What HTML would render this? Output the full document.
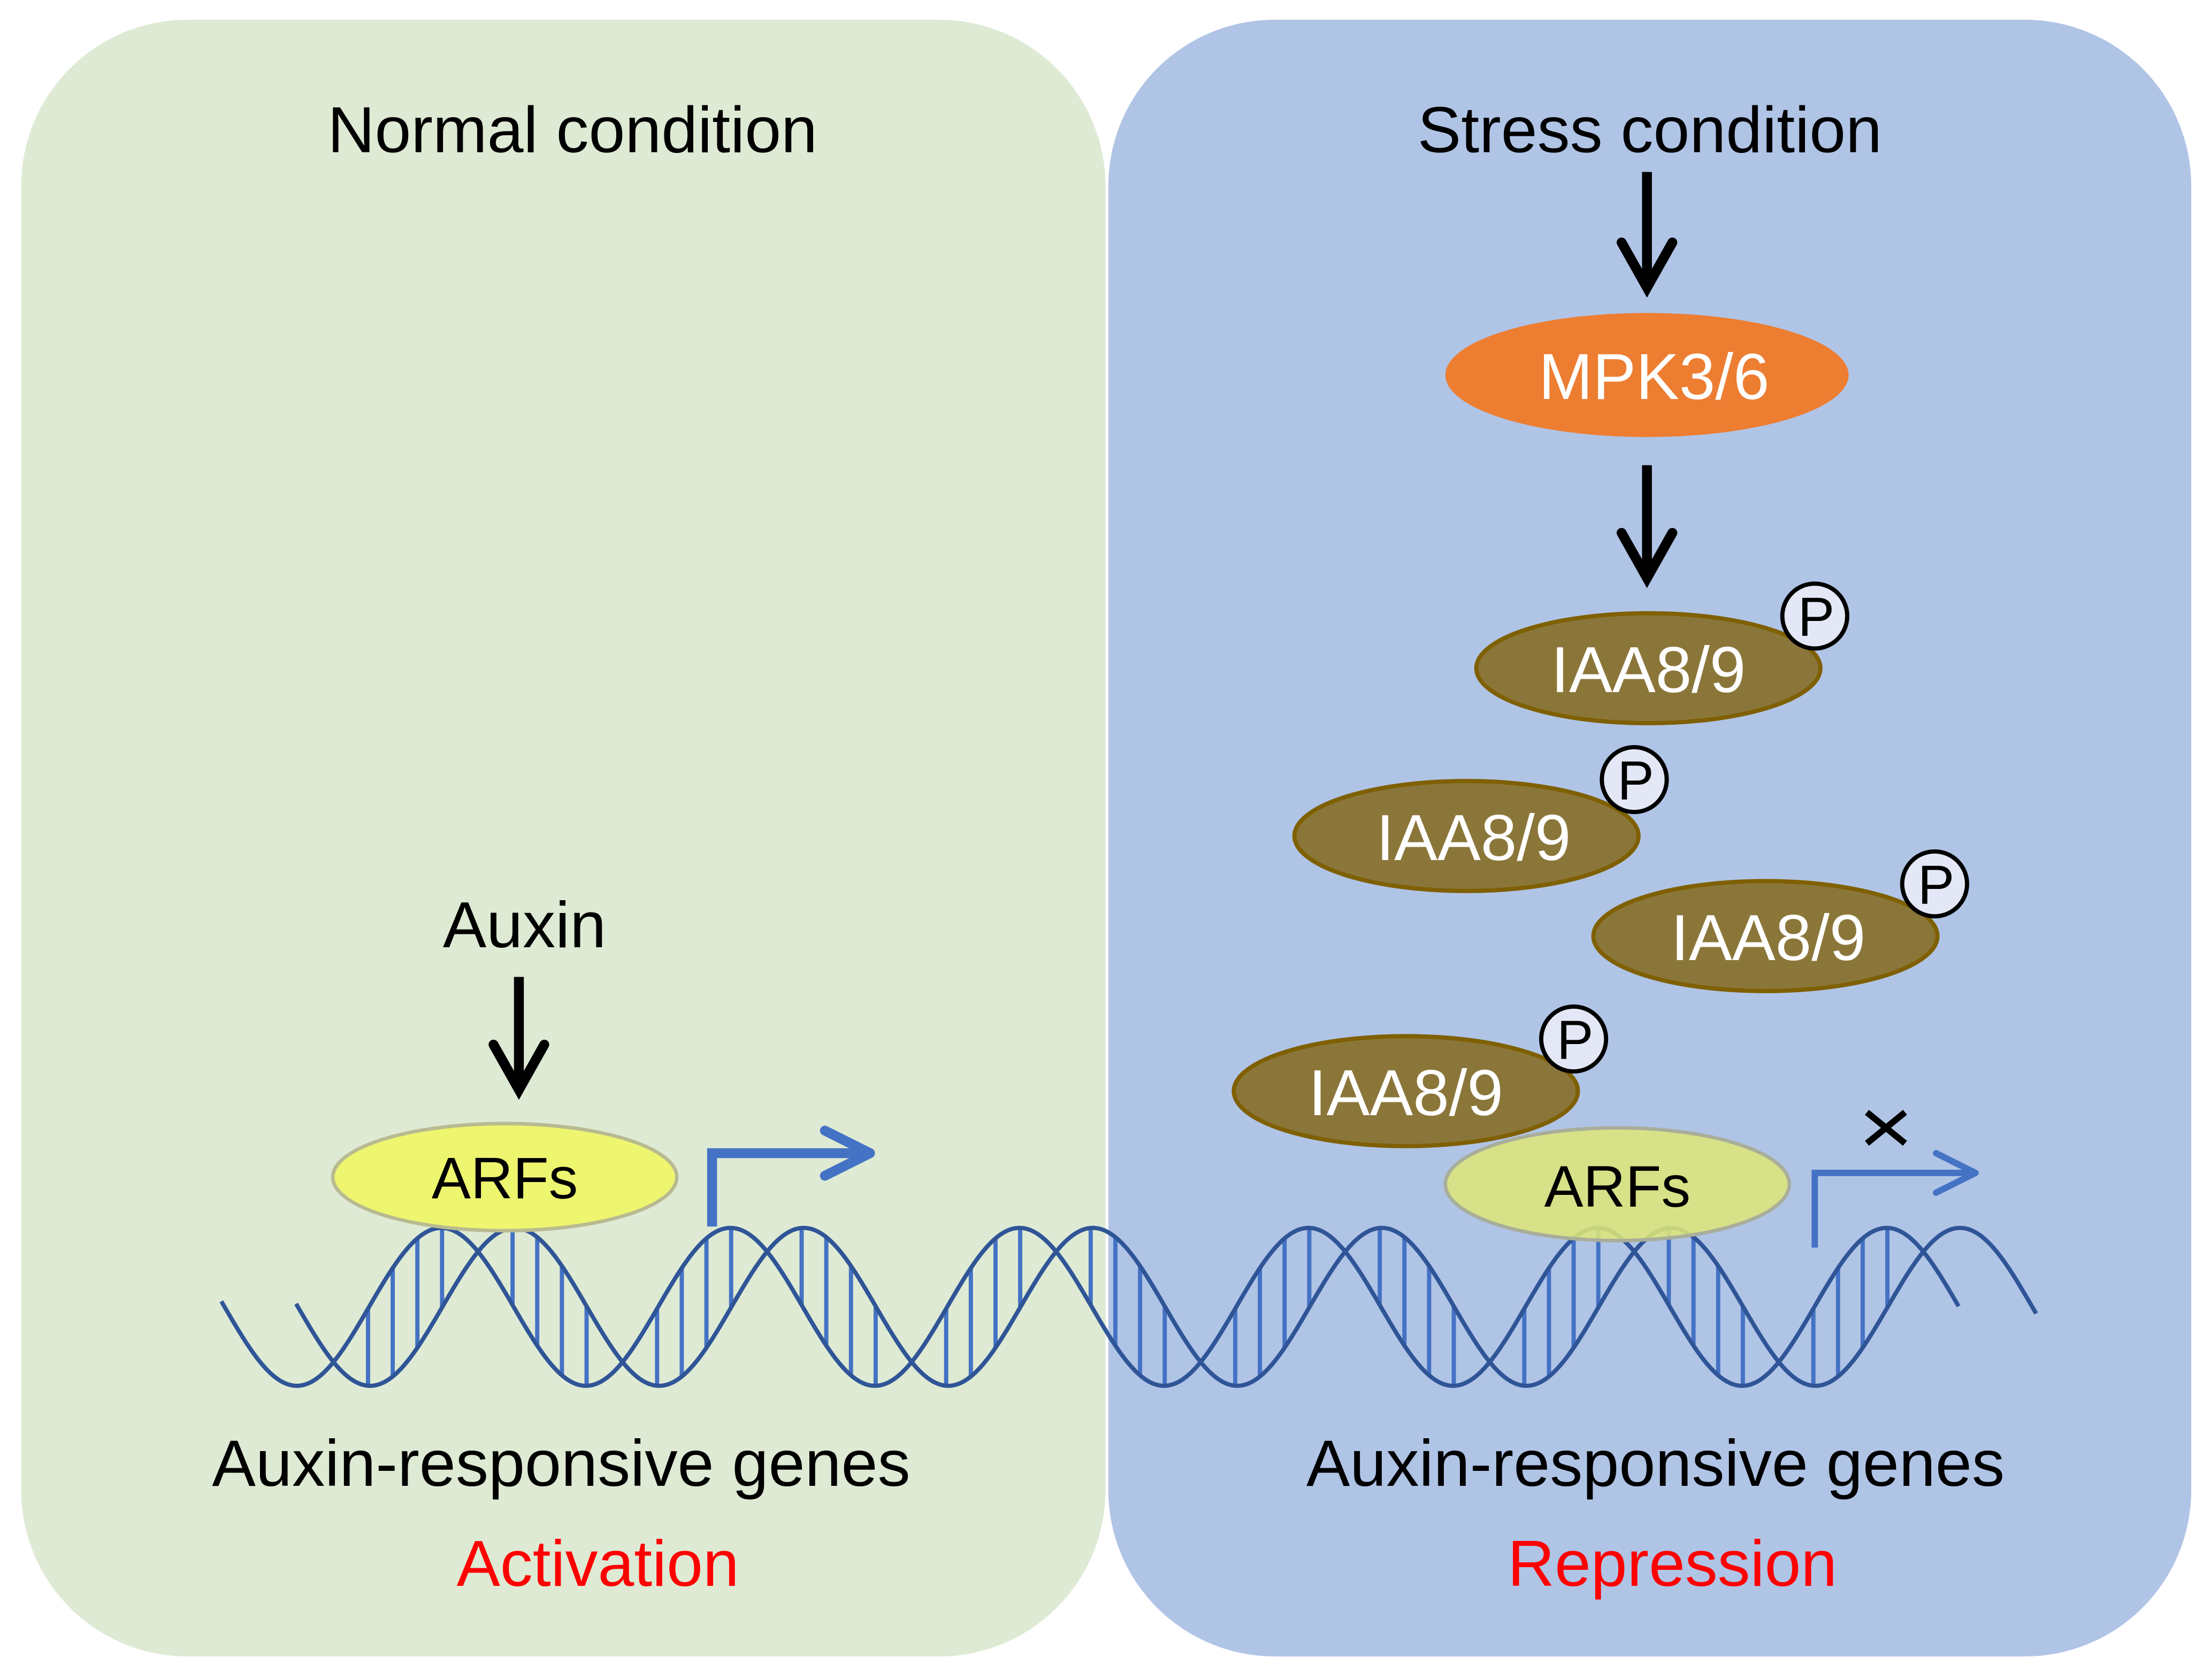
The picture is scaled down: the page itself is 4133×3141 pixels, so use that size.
<!DOCTYPE html>
<html><head><meta charset="utf-8"><style>
html,body{margin:0;padding:0;background:#fff}
svg{display:block}
text{font-family:"Liberation Sans",Arial,sans-serif}
</style></head><body>
<svg id="s" width="4133" height="3141" viewBox="0 0 1568 1191.7" preserveAspectRatio="none" xmlns="http://www.w3.org/2000/svg">
<rect x="0" y="0" width="1568" height="1192" fill="#fff"/>
<rect x="15" y="14" width="769" height="1161" rx="118" fill="#DEEAD4"/>
<rect x="786" y="14" width="768" height="1161" rx="118" fill="#B0C4E6"/>

<text x="406" y="108" font-size="46.3" text-anchor="middle" fill="#000">Normal condition</text>
<text x="1170" y="108" font-size="46.3" text-anchor="middle" fill="#000">Stress condition</text>

<g stroke="#000" stroke-width="7" fill="none" stroke-linecap="butt">
<line x1="1168" y1="122" x2="1168" y2="204"/>
<polyline points="1150,172 1168,204 1186,172" stroke-linecap="round"/>
<line x1="1168" y1="330" x2="1168" y2="410"/>
<polyline points="1150,378 1168,410 1186,378" stroke-linecap="round"/>
<line x1="368" y1="693" x2="368" y2="773"/>
<polyline points="350,741 368,773 386,741" stroke-linecap="round"/>
</g>

<ellipse cx="1168" cy="266" rx="143" ry="44" fill="#ED7D31"/>
<text x="1173" y="283" font-size="46" text-anchor="middle" fill="#fff">MPK3/6</text>

<g id="dna"></g>

<ellipse cx="358" cy="835" rx="122" ry="38" fill="#EEF56F" stroke="#B8BA90" stroke-width="2.5"/>
<text x="358" y="850" font-size="41.5" text-anchor="middle" fill="#000">ARFs</text>

<ellipse cx="1147" cy="840" rx="122" ry="40" fill="#DCE57A" fill-opacity="0.88" stroke="#A8AE9A" stroke-width="2.5"/>
<text x="1147" y="856" font-size="41.5" text-anchor="middle" fill="#000">ARFs</text>

<g fill="#8B763A" stroke="#7F6000" stroke-width="3">
<ellipse cx="1169" cy="474" rx="122" ry="39"/>
<ellipse cx="1040" cy="593" rx="122" ry="39"/>
<ellipse cx="1252" cy="664" rx="122" ry="39"/>
<ellipse cx="997" cy="774" rx="122" ry="39"/>
</g>
<g font-size="46" text-anchor="middle" fill="#fff">
<text x="1169" y="491">IAA8/9</text>
<text x="1045" y="610">IAA8/9</text>
<text x="1254" y="681">IAA8/9</text>
<text x="997" y="791">IAA8/9</text>
</g>
<g fill="#E4E8F6" stroke="#000" stroke-width="3">
<circle cx="1287" cy="437" r="23"/>
<circle cx="1159" cy="553" r="23"/>
<circle cx="1372" cy="627" r="23"/>
<circle cx="1116" cy="737" r="23"/>
</g>
<g font-size="39" text-anchor="middle" fill="#000">
<text x="1288" y="451">P</text>
<text x="1160" y="567">P</text>
<text x="1373" y="641">P</text>
<text x="1117" y="751">P</text>
</g>

<text x="372" y="672" font-size="46.3" text-anchor="middle" fill="#000">Auxin</text>

<g stroke="#4472C4" fill="none">
<polyline points="505,870 505,818 612,818" stroke-width="7"/>
<polyline points="585,802 617,818 585,834" stroke-width="7" stroke-linecap="round" stroke-linejoin="round"/>
<polyline points="1287,885 1287,832 1398,832" stroke-width="4.5"/>
<polyline points="1373,818 1401,832 1373,846" stroke-width="4.5" stroke-linecap="round" stroke-linejoin="round"/>
</g>
<g stroke="#000" stroke-width="4.5">
<line x1="1324" y1="789" x2="1351" y2="811"/>
<line x1="1351" y1="789" x2="1324" y2="811"/>
</g>

<text x="398" y="1054" font-size="46.4" text-anchor="middle" fill="#000">Auxin-responsive genes</text>
<text x="1174" y="1054" font-size="46.4" text-anchor="middle" fill="#000">Auxin-responsive genes</text>
<text x="424" y="1125" font-size="46.2" text-anchor="middle" fill="#FF0000">Activation</text>
<text x="1186" y="1125" font-size="46.2" text-anchor="middle" fill="#FF0000">Repression</text>
</svg>
<script>
(function(){
var P=205,A=56,C=927;
function ya(x){return C-A*Math.cos(2*Math.PI*(x-313)/P);}
function yb(x){return C-A*Math.cos(2*Math.PI*(x-365)/P);}
var g=document.getElementById('dna'),h='';
for(var k=-2;k<14;k++){
  var x0=261+102.5*k;
  for(var j=0;j<4;j++){
    var x=x0+j*17.5;
    if(x<212||x>1387)continue;
    var a=ya(x),b=yb(x);
    h+='<line x1="'+x.toFixed(1)+'" y1="'+a.toFixed(1)+'" x2="'+x.toFixed(1)+'" y2="'+b.toFixed(1)+'" stroke="#4472C4" stroke-width="3"/>';
  }
}
function path(f,x1,x2){var d='';for(var x=x1;x<=x2;x+=1){d+=(x==x1?'M':'L')+x+','+f(x).toFixed(2)+' ';}return d;}
h+='<path d="'+path(ya,157,1389)+'" fill="none" stroke="#2F5597" stroke-width="3"/>';
h+='<path d="'+path(yb,210,1444)+'" fill="none" stroke="#2F5597" stroke-width="3"/>';
g.innerHTML=h;
})();
</script>
</body></html>
